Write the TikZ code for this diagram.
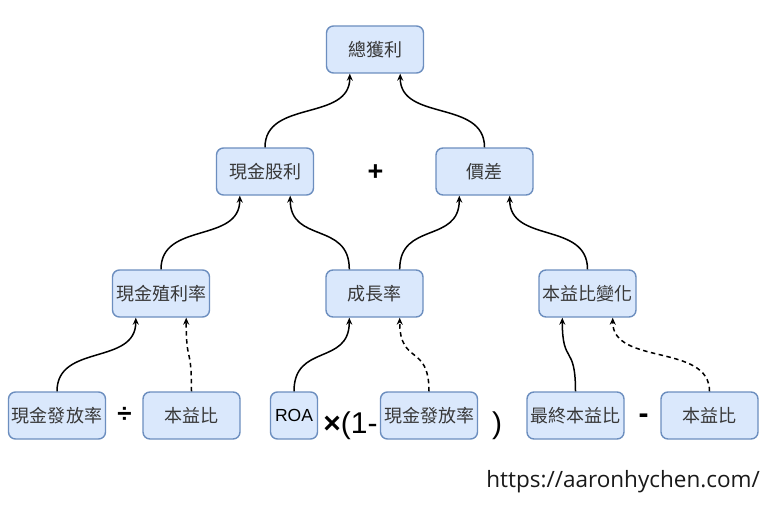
\documentclass[tikz,border=0pt]{standalone}
\usepackage{fontspec}
\setmainfont{Liberation Sans}
\newfontfamily\cjk{Noto Sans CJK TC}
\newfontfamily\webfont{Open Sans}
\usepackage{xcolor}
\usepackage{tikz}
\usetikzlibrary{arrows.meta, positioning, calc}

\definecolor{boxfill}{HTML}{DAE8FC}
\definecolor{boxdraw}{HTML}{6C8EBF}

\begin{document}
\begin{tikzpicture}[
    x=1pt, y=-1pt,
    block/.style={rectangle, draw=boxdraw, fill=boxfill, rounded corners=7pt, line width=1.4pt, minimum width=97pt, minimum height=47pt, inner sep=2pt, text=black!78, font=\cjk\fontsize{18}{21}\selectfont},
    smallblock/.style={block, minimum width=47pt, text=black, font=\fontsize{17.5}{20}\selectfont},
    op/.style={inner sep=0pt, text=black, font=\fontsize{30}{33}\selectfont},
    line/.style={draw=black, -{Stealth[length=7pt,width=6pt]}, line width=1.5pt},
    dline/.style={line, dash pattern=on 4.5pt off 3.5pt}
]
\path [fill=white, use as bounding box] (0,0) rectangle (768,508);

% Top Row: total return
\node [block] (total) at (375,49.5) {總獲利};

% Second Row: dividend + price gap
\node [block] (div) at (265,171.5) {現金股利};
\node [block] (gap) at (484.5,171.5) {價差};
\node [op, font=\bfseries\fontsize{27}{30}\selectfont] (plus) at (375.5,172.5) {+};

% Third Row
\node [block] (yield) at (161,293.5) {現金殖利率};
\node [block] (growth) at (374.5,293.5) {成長率};
\node [block] (pechg) at (587.5,293.5) {本益比變化};

% Bottom Row: inputs and operators
\node [block] (payout) at (57,415.5) {現金發放率};
\node [op, font=\bfseries\fontsize{26}{28}\selectfont] (divop) at (124.5,415) {÷};
\node [block] (pe) at (191.5,415.5) {本益比};
\node [smallblock] (roa) at (294,415.5) {ROA};
\node [op, anchor=base] (times) at (350.5,433) {\textbf{×}(1-};
\node [block] (payout2) at (429,415.5) {現金發放率};
\node [op, anchor=base] (close) at (497,433) {)};
\node [block] (finalpe) at (575.5,415.5) {最終本益比};
\node [op, font=\bfseries\fontsize{30}{32}\selectfont] (minus) at (643.5,418.5) {-};
\node [block] (pe2) at (709.5,415.5) {本益比};

% Source
\node [anchor=base east, inner sep=0pt, text=black!90, font=\webfont\fontsize{22.5}{25}\selectfont] (site) at (760,487) {https://aaronhychen.com/};

% Connections
\path [line] (div.north) .. controls +(0,-48) and +(0,48) .. ([xshift=24pt]total.south west);
\path [line] (gap.north) .. controls +(0,-48) and +(0,48) .. ([xshift=-24pt]total.south east);
\path [line] (yield.north) .. controls +(0,-48) and +(0,48) .. ([xshift=24pt]div.south west);
\path [line] ([xshift=24pt]growth.north west) .. controls +(0,-48) and +(0,48) .. ([xshift=-24pt]div.south east);
\path [line] ([xshift=-24pt]growth.north east) .. controls +(0,-48) and +(0,48) .. ([xshift=24pt]gap.south west);
\path [line] (pechg.north) .. controls +(0,-48) and +(0,48) .. ([xshift=-24pt]gap.south east);
\path [line] (payout.north) .. controls +(0,-48) and +(0,48) .. ([xshift=24pt]yield.south west);
\path [dline] (pe.north) .. controls +(0,-48) and +(0,48) .. ([xshift=-24pt]yield.south east);
\path [line] (roa.north) .. controls +(0,-48) and +(0,48) .. ([xshift=24pt]growth.south west);
\path [dline] (payout2.north) .. controls +(0,-48) and +(0,48) .. ([xshift=-24pt]growth.south east);
\path [line] (finalpe.north) .. controls +(0,-48) and +(0,48) .. ([xshift=24pt]pechg.south west);
\path [dline] (pe2.north) .. controls +(0,-48) and +(0,48) .. ([xshift=-24pt]pechg.south east);

\end{tikzpicture}
\end{document}
